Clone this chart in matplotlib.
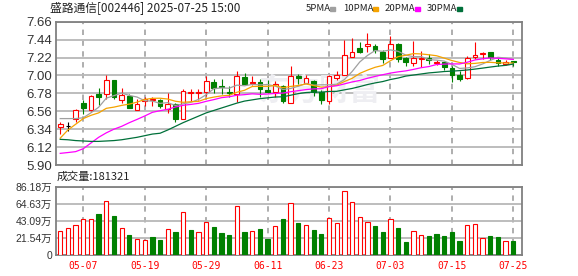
import matplotlib
matplotlib.use('Agg')
import matplotlib.pyplot as plt
from matplotlib.patches import Rectangle
import numpy as np

plt.rcParams['font.family'] = ['Liberation Sans', 'Noto Sans CJK SC']

dates = ['04-29', '04-30', '05-06', '05-07', '05-08', '05-09', '05-12', '05-13', '05-14', '05-15',
         '05-16', '05-19', '05-20', '05-21', '05-22', '05-23', '05-26', '05-27', '05-28', '05-29',
         '05-30', '06-03', '06-04', '06-05', '06-06', '06-09', '06-10', '06-11', '06-12', '06-13',
         '06-16', '06-17', '06-18', '06-19', '06-20', '06-23', '06-24', '06-25', '06-26', '06-27',
         '06-30', '07-01', '07-02', '07-03', '07-04', '07-07', '07-08', '07-09', '07-10', '07-11',
         '07-14', '07-15', '07-16', '07-17', '07-18', '07-21', '07-22', '07-23', '07-24', '07-25']

opens = [6.37, 6.38, 6.47, 6.66, 6.57, 6.77, 6.77, 6.94, 6.70, 6.75,
         6.58, 6.69, 6.70, 6.70, 6.59, 6.645, 6.47, 6.79, 6.79, 6.80,
         6.92, 6.87, 6.80, 6.77, 6.975, 6.905, 6.92, 6.82, 6.80, 6.87,
         6.665, 6.99, 6.91, 6.935, 6.80, 6.68, 6.965, 7.01, 7.23, 7.34,
         7.36, 7.36, 7.29, 7.21, 7.385, 7.21, 7.15, 7.20, 7.21, 7.155,
         7.16, 7.09, 7.005, 6.965, 7.23, 7.26, 7.29, 7.195, 7.14, 7.18]
highs = [6.43, 6.43, 6.59, 6.70, 6.76, 6.84, 7.00, 6.95, 6.85, 6.77,
         6.71, 6.73, 6.74, 6.71, 6.78, 6.66, 6.83, 6.83, 6.83, 6.99,
         6.96, 6.96, 6.87, 7.05, 7.03, 6.99, 6.96, 6.94, 6.935, 6.88,
         7.11, 7.02, 7.005, 6.95, 6.82, 7.00, 7.05, 7.435, 7.46, 7.41,
         7.52, 7.39, 7.31, 7.48, 7.40, 7.23, 7.42, 7.30, 7.26, 7.19,
         7.17, 7.12, 7.05, 7.24, 7.41, 7.29, 7.29, 7.21, 7.19, 7.18]
lows = [6.28, 6.32, 6.43, 6.53, 6.56, 6.64, 6.71, 6.71, 6.665, 6.60,
        6.58, 6.62, 6.62, 6.60, 6.54, 6.43, 6.47, 6.68, 6.70, 6.75,
        6.78, 6.77, 6.73, 6.67, 6.88, 6.88, 6.74, 6.79, 6.74, 6.665,
        6.66, 6.90, 6.91, 6.75, 6.645, 6.65, 6.95, 7.01, 7.23, 7.27,
        7.29, 7.27, 7.15, 7.21, 7.17, 7.115, 7.12, 7.105, 7.14, 7.13,
        7.07, 6.92, 6.935, 6.96, 7.20, 7.20, 7.19, 7.115, 7.13, 7.115]
closes = [6.40, 6.38, 6.575, 6.60, 6.75, 6.74, 6.94, 6.73, 6.76, 6.60,
          6.645, 6.71, 6.71, 6.62, 6.645, 6.47, 6.81, 6.80, 6.80, 6.935,
          6.84, 6.86, 6.78, 6.99, 6.895, 6.925, 6.83, 6.80, 6.90, 6.68,
          6.99, 6.965, 6.97, 6.80, 6.70, 6.99, 7.005, 7.25, 7.29, 7.29,
          7.39, 7.31, 7.20, 7.38, 7.20, 7.16, 7.21, 7.21, 7.19, 7.17,
          7.10, 7.01, 6.96, 7.22, 7.245, 7.27, 7.23, 7.15, 7.17, 7.165]

ma5 = [6.47, 6.47, 6.47, 6.48, 6.541, 6.609, 6.721, 6.752, 6.784, 6.754,
       6.735, 6.689, 6.685, 6.657, 6.666, 6.631, 6.651, 6.669, 6.705, 6.763,
       6.837, 6.847, 6.843, 6.881, 6.873, 6.89, 6.884, 6.888, 6.87, 6.827,
       6.84, 6.867, 6.901, 6.881, 6.885, 6.885, 6.893, 6.949, 7.047, 7.165,
       7.245, 7.306, 7.296, 7.314, 7.296, 7.25, 7.23, 7.232, 7.194, 7.188,
       7.176, 7.136, 7.086, 7.092, 7.107, 7.141, 7.185, 7.223, 7.213, 7.197]
ma10 = [6.23, 6.33, 6.40, 6.47, 6.51, 6.54, 6.596, 6.611, 6.632, 6.648,
        6.672, 6.705, 6.719, 6.72, 6.71, 6.683, 6.67, 6.677, 6.681, 6.715,
        6.734, 6.749, 6.756, 6.793, 6.818, 6.864, 6.866, 6.866, 6.876, 6.85,
        6.865, 6.876, 6.895, 6.876, 6.856, 6.863, 6.88, 6.925, 6.964, 7.025,
        7.065, 7.10, 7.123, 7.181, 7.231, 7.248, 7.268, 7.264, 7.254, 7.242,
        7.213, 7.183, 7.159, 7.143, 7.148, 7.159, 7.161, 7.155, 7.153, 7.152]
ma20 = [6.043, 6.053, 6.064, 6.10, 6.17, 6.24, 6.295, 6.34, 6.375, 6.42,
        6.46, 6.502, 6.547, 6.567, 6.584, 6.612, 6.633, 6.644, 6.657, 6.682,
        6.703, 6.727, 6.738, 6.757, 6.764, 6.774, 6.768, 6.772, 6.779, 6.783,
        6.80, 6.813, 6.826, 6.835, 6.837, 6.864, 6.873, 6.896, 6.92, 6.938,
        6.965, 6.988, 7.009, 7.029, 7.044, 7.056, 7.074, 7.095, 7.109, 7.134,
        7.139, 7.142, 7.141, 7.162, 7.19, 7.204, 7.215, 7.21, 7.204, 7.197]
ma30 = [6.215, 6.21, 6.20, 6.195, 6.19, 6.19, 6.195, 6.20, 6.21, 6.225,
        6.24, 6.26, 6.28, 6.29, 6.33, 6.375, 6.42, 6.46, 6.50, 6.54,
        6.57, 6.60, 6.63, 6.66, 6.685, 6.70, 6.715, 6.725, 6.735, 6.738,
        6.757, 6.777, 6.79, 6.796, 6.795, 6.803, 6.805, 6.823, 6.84, 6.863,
        6.888, 6.908, 6.925, 6.95, 6.968, 6.992, 7.005, 7.018, 7.031, 7.039,
        7.048, 7.053, 7.059, 7.067, 7.078, 7.09, 7.103, 7.115, 7.124, 7.14]

# volume in 万 shares, and whether the volume bar is drawn red (1) or green (0)
volumes = [30.3, 33.6, 37.4, 45.0, 45.0, 51.7, 67.7, 49.2, 33.6, 24.8,
           19.8, 18.9, 22.7, 18.9, 32.4, 29.0, 53.8, 31.5, 29.0, 41.2,
           35.3, 28.2, 25.2, 61.4, 29.0, 30.3, 32.8, 20.2, 36.6, 45.4,
           65.2, 40.4, 37.4, 31.5, 26.5, 46.2, 39.9, 80.3, 66.4, 47.5,
           41.6, 36.6, 29.0, 45.0, 34.1, 16.4, 29.8, 24.8, 24.0, 26.5,
           24.0, 29.0, 17.7, 37.4, 38.7, 21.0, 24.0, 22.7, 17.7, 18.13]
vol_red = [1, 1, 1, 1, 1, 0, 1, 0, 1, 0,
           1, 1, 0, 0, 1, 0, 1, 0, 1, 1,
           0, 0, 0, 1, 0, 1, 0, 0, 1, 0,
           1, 0, 1, 0, 0, 1, 1, 1, 1, 1,
           1, 0, 0, 1, 0, 0, 1, 1, 0, 0,
           0, 0, 0, 1, 1, 1, 0, 0, 1, 0]

price_ticks = [5.90, 6.12, 6.34, 6.56, 6.78, 7.00, 7.22, 7.44, 7.66]
vol_ticks = [0, 21.54, 43.09, 64.63, 86.18]
vol_labels = ['0', '21.54万', '43.09万', '64.63万', '86.18万']
tick_dates = ['05-07', '05-19', '05-29', '06-11', '06-23', '07-03', '07-15', '07-25']

RED = '#ff0000'
GREEN = '#008000'
GRID = '#b8b8b8'
SPINE = '#808080'

W, H = 578, 276
fig = plt.figure(figsize=(W / 100, H / 100), dpi=100)
ax = fig.add_axes([55.7 / W, 1 - 165 / H, 466.3 / W, 143.3 / H])
axv = fig.add_axes([55.7 / W, 1 - 255 / H, 466.3 / W, 68.3 / H])

x = np.arange(len(dates))
o = np.array(opens)
c = np.array(closes)
cols = [RED if cc > oo else (GREEN if cc < oo else 'black') for oo, cc in zip(o, c)]
faces = ['white' if cc > oo else col for oo, cc, col in zip(o, c, cols)]

tick_idx = [dates.index(d) for d in tick_dates]
for a in (ax, axv):
    a.set_xlim(-0.59, 60.13)
    a.set_xticks(tick_idx)
    a.grid(False)
    vl = a.vlines(tick_idx, 0, 1, transform=a.get_xaxis_transform(), colors='#a8a8a8',
                  lw=1.3, linestyles=(0, (3, 3)), zorder=1)
    vl.set_snap(True)
    a.tick_params(length=0)
    for s in a.spines.values():
        s.set_color(SPINE)
        s.set_linewidth(1.3)

hl = ax.hlines(price_ticks, 0, 1, transform=ax.get_yaxis_transform(), colors=GRID, lw=1.3, zorder=1)
hl.set_snap(True)
hl = axv.hlines(vol_ticks, 0, 1, transform=axv.get_yaxis_transform(), colors=GRID, lw=1.3, zorder=1)
hl.set_snap(True)

ax.text(0.565, 0.52, '东方财富', transform=ax.transAxes, fontsize=22, fontweight='bold',
        color='#eeeef2', ha='center', va='center', zorder=1.5, family=['Noto Sans CJK SC'])

ax.vlines(x, lows, highs, colors=cols, lw=0.8, zorder=2)
ax.bar(x, np.maximum(np.abs(c - o), 0.004), bottom=np.minimum(o, c), width=0.62,
       color=faces, edgecolor=cols, linewidth=0.8, zorder=3)

ax.plot(x, ma5, color='#a0a0a0', lw=0.9, zorder=4)
ax.plot(x, ma10, color='#f5a300', lw=0.9, zorder=4)
ax.plot(x, ma20, color='#ff00ff', lw=0.9, zorder=4)
ax.plot(x, ma30, color='#00703a', lw=0.9, zorder=4)

ax.set_ylim(5.90, 7.66)
ax.set_yticks(price_ticks)
ax.set_yticklabels(['%.2f' % v for v in price_ticks], fontsize=9.5, color='#333333')
ax.tick_params(axis='y', pad=2.5)
ax.set_xticklabels([])

vcols = [RED if r else GREEN for r in vol_red]
vfaces = ['white' if r else GREEN for r in vol_red]
axv.bar(x, volumes, width=0.56, color=vfaces, edgecolor=vcols, linewidth=0.8, zorder=3)
axv.set_ylim(0, 86.18)
axv.set_yticks(vol_ticks)
axv.set_yticklabels(vol_labels, fontsize=7.5, color='#333333')
axv.tick_params(axis='y', pad=2.5)
axv.set_xticklabels(tick_dates, fontsize=7, color=RED, family=['DejaVu Sans Mono'])
axv.tick_params(axis='x', pad=4)

fig.text(50 / W, 1 - 8.5 / H, '盛路通信[002446] 2025-07-25 15:00', fontsize=8.5,
         va='center', ha='left', family=['Noto Sans CJK SC'], color='#222222')
fig.text(57 / W, 1 - 176.5 / H, '成交量:181321', fontsize=8, va='center', ha='left',
         family=['Noto Sans CJK SC'], color='#222222')

legend = [('5PMA', 306, 330, '#a0a0a0'), ('10PMA', 343, 373, '#f5a300'),
          ('20PMA', 385, 415, '#ff00ff'), ('30PMA', 427, 457, '#00703a')]
for lab, tx, sx, col in legend:
    fig.text(tx / W, 1 - 8.5 / H, lab, fontsize=6.9, va='center', ha='left',
             family=['Noto Sans CJK SC'], color='#222222')
    fig.add_artist(Rectangle((sx / W, 1 - 10.5 / H), 5 / W, 4 / H,
                             transform=fig.transFigure, color=col))

fig.savefig('out.png', dpi=100, facecolor='white')
